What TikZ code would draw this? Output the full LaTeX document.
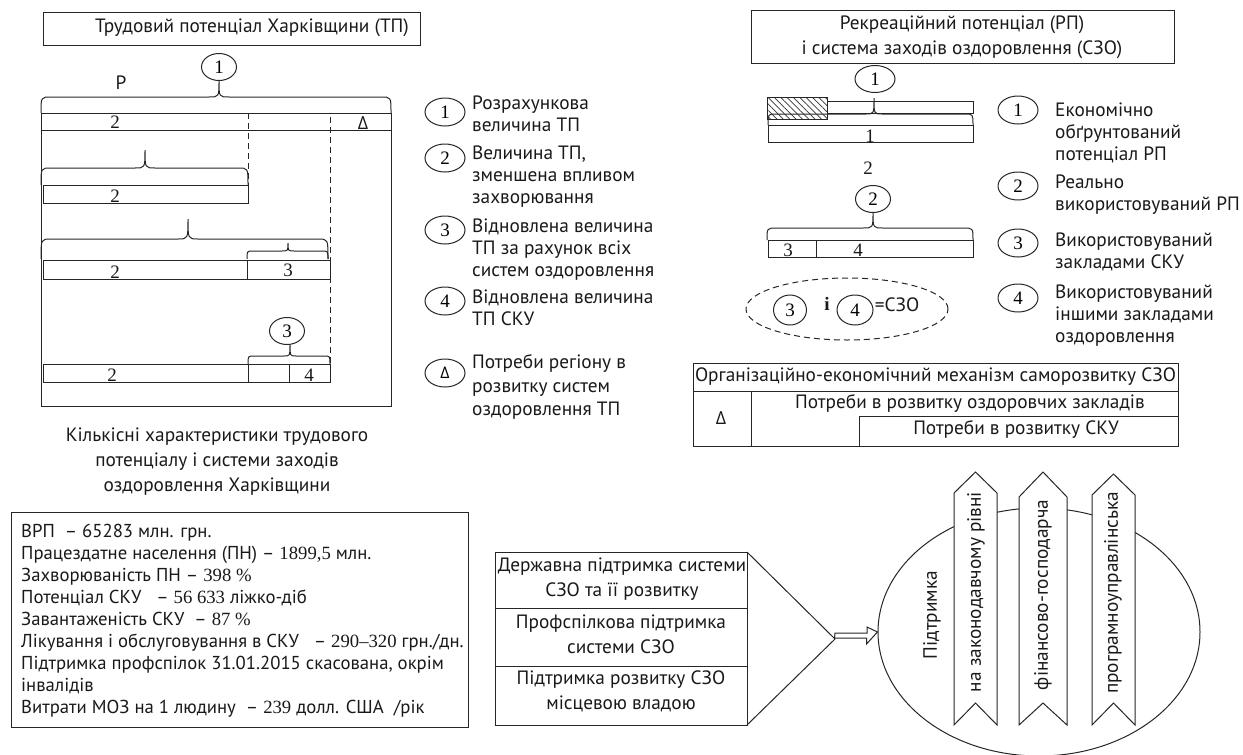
\documentclass[tikz,border=0pt]{standalone}
\usepackage{fontspec}
\setmainfont{PT Sans}
\newfontfamily\numfont{Liberation Serif}
\newfontfamily\grkfont{Open Sans}
\usetikzlibrary{patterns.meta,shapes.geometric}
\newcommand\mybrace[7]{%
 \draw[ln] (#1,#4) .. controls (#1,#3) .. ({#1+#7},#3) -- ({#5-#7},#3) .. controls (#5,#3) .. (#5,#6) .. controls (#5,#3) .. ({#5+#7},#3) -- ({#2-#7},#3) .. controls (#2,#3) .. (#2,#4);}
\begin{document}
\begin{tikzpicture}[x=1pt,y=-1pt,
 ln/.style={draw=black!85,line width=1pt},
 circ/.style={ellipse,draw=black!85,line width=1pt,minimum width=35pt,minimum height=27pt,inner sep=0pt,font=\numfont\fontsize{19}{19}\selectfont},
 lcirc/.style={circ,minimum width=40pt,minimum height=28pt},
 lab/.style={font=\fontsize{19.3}{22}\selectfont,align=left,anchor=west,inner sep=0pt,text=black!90},
 ctext/.style={font=\fontsize{19.3}{25}\selectfont,align=center,inner sep=0pt,text=black!90},
 num/.style={font=\numfont\fontsize{19}{19}\selectfont,inner sep=0pt,text=black!90},
 dlt/.style={font=\grkfont\fontsize{18}{18}\selectfont},
 dl/.style={ln,dashed,dash pattern=on 6pt off 4pt}
]
\useasboundingbox (0,0) rectangle (1243,755);

% ---------- top left ----------
\draw[ln] (43,12) rectangle (420,45);
\node[ctext] (tptitle) at (252,28) {Трудовий потенціал Харківщини (ТП)};
\node[circ] (c1) at (219,67) {1};
\node[ctext] (plab) at (121,83) {Р};
\mybrace{41}{391}{97}{113}{219}{81}{10}
\draw[ln] (41,113) rectangle (391,406);
\draw[ln] (41,130) -- (391,130);
\node[num] (r1a) at (115,122) {2};
\node[ctext,dlt] (r1d) at (363,123) {Δ};
\draw[dl] (248,113) -- (248,185);
\draw[dl] (330,117) -- (330,364);
% row 2
\mybrace{41}{248}{168}{185}{145}{150}{10}
\draw[ln] (43,185) rectangle (248,203);
\node[num] (r2a) at (115,196) {2};
% row 3
\mybrace{41}{328}{239}{259}{188}{219}{10}
\mybrace{247}{328}{251}{259}{288}{243}{6}
\draw[ln] (43,260) rectangle (330,279);
\draw[ln] (247,260) -- (247,279);
\node[num] (r3a) at (115,272) {2};
\node[num] (r3b) at (288,270) {3};
% row 4
\node[circ] (c3) at (287,331) {3};
\mybrace{248}{330}{356}{364}{290}{345}{6}
\draw[ln] (43,364) rectangle (330,382);
\draw[ln] (248,364) -- (248,382);
\draw[ln] (289,364) -- (289,382);
\node[num] (r4a) at (112,375) {2};
\node[num] (r4b) at (309,375) {4};

% legend left
\node[lcirc] (l1) at (445,112) {1};
\node[lab] (t1) at (472,113.5) {Розрахункова\\величина ТП};
\node[lcirc] (l2) at (445,158) {2};
\node[lab] (t2) at (472,177) {Величина ТП,\\зменшена впливом\\захворювання};
\node[lcirc] (l3) at (445,230) {3};
\node[lab] (t3) at (472,250) {Відновлена величина\\ТП за рахунок всіх\\систем оздоровлення};
\node[lcirc] (l4) at (445,301) {4};
\node[lab] (t4) at (472,308) {Відновлена величина\\ТП СКУ};
\node[lcirc,font=\grkfont\fontsize{16}{16}\selectfont] (ld) at (445,373) {Δ};
\node[lab,font=\fontsize{19.3}{23.5}\selectfont] (td) at (472,387) {Потреби регіону в\\розвитку систем\\оздоровлення ТП};

% caption
\node[ctext] (cap) at (217,462) {Кількісні характеристики трудового\\потенціалу і системи заходів\\оздоровлення Харківщини};

% bottom-left box
\draw[ln] (11,512) rectangle (468,727);
\node[lab,font=\fontsize{18.7}{22}\selectfont] (stats) at (21,621) {ВРП\ \ – 65283 млн. грн.\\
Працездатне населення (ПН) – {\numfont 1899,5} млн.\\
Захворюваність ПН – {\numfont 398 \%}\\
Потенціал СКУ\ \ \ – {\numfont 56 633} ліжко-діб\\
Завантаженість СКУ\ \ – {\numfont 87 \%}\\
Лікування і обслуговування в СКУ\ \ \ – {\numfont 290–320} грн./дн.\\
Підтримка профспілок 31.01.2015 скасована, окрім\\
інвалідів\\
Витрати МОЗ на 1 людину\ \ – {\numfont 239} долл. США\ \ /рік};

% ---------- top right ----------
\draw[ln] (751,10) rectangle (1174,63);
\node[ctext] (rptitle) at (962,37) {Рекреаційний потенціал (РП)\\і система заходів оздоровлення (СЗО)};
\node[lcirc,minimum height=27pt] (k1) at (875,79) {1};
\fill[white] (767,97) rectangle (827,119);
\fill[pattern={Lines[angle=-45,distance=4.5pt,line width=0.7pt]},pattern color=black!80] (767,97) rectangle (827,119);
\draw[ln] (767,97) rectangle (827,119);
\draw[ln] (827,101) rectangle (973,113);
\mybrace{768}{973}{114}{125}{874}{98}{8}
\draw[ln] (768,125) rectangle (973,142);
\node[num] (k1lab) at (870,136) {1};
\node[num] (k2lab) at (868,168) {2};
\node[circ] (k2) at (873,199) {2};
\mybrace{767}{973}{228}{240}{873}{212.5}{10}
\draw[ln] (768,240) rectangle (973,257);
\draw[ln] (816,240) -- (816,257);
\node[num] (k3lab) at (788,250) {3};
\node[num] (k4lab) at (858,250) {4};
% dashed ellipse
\node[ellipse,dl,minimum width=202pt,minimum height=62pt] (szo) at (847,309) {};
\node[circ,minimum width=33pt,minimum height=30pt] (e3) at (790,310) {3};
\node[num,font=\numfont\bfseries\fontsize{19}{19}\selectfont] (ei) at (827,304) {і};
\node[circ,minimum width=36pt,minimum height=30pt] (e4) at (855,310) {4};
\node[ctext] (eq) at (897,305) {=СЗО};

% legend right
\node[lcirc] (q1) at (1018,110) {1};
\node[lab] (u1) at (1055,133) {Економічно\\обґрунтований\\потенціал РП};
\node[lcirc] (q2) at (1018,186) {2};
\node[lab] (u2) at (1055,195) {Реально\\використовуваний РП};
\node[lcirc] (q3) at (1018,243) {3};
\node[lab] (u3) at (1055,252) {Використовуваний\\закладами СКУ};
\node[lcirc] (q4) at (1018,298) {4};
\node[lab] (u4) at (1055,316) {Використовуваний\\іншими закладами\\оздоровлення};

% org table
\draw[ln] (693,363) rectangle (1178,446);
\draw[ln] (693,391) -- (1178,391);
\draw[ln] (751,391) -- (751,446);
\draw[ln] (859,446) -- (859,416) -- (1178,416);
\node[ctext] (org) at (935.5,377) {Організаційно-економічний механізм саморозвитку СЗО};
\node[ctext,dlt] (od) at (721,418) {Δ};
\node[ctext] (o1) at (970,403) {Потреби в розвитку оздоровчих закладів};
\node[ctext] (o2) at (1016,429) {Потреби в розвитку СКУ};

% ---------- bottom middle ----------
\draw[ln] (495,552) rectangle (747,725);
\draw[ln] (495,608) -- (747,608);
\draw[ln] (495,666) -- (747,666);
\node[ctext] (s1) at (622,579.5) {Державна підтримка системи\\СЗО та її розвитку};
\node[ctext] (s2) at (621,634.5) {Профспілкова підтримка\\системи СЗО};
\node[ctext] (s3) at (621,691.5) {Підтримка розвитку СЗО\\місцевою владою};
\coordinate (apex) at (835,639);
\draw[ln] (747,552) -- (apex) -- (747,725);

% ellipse
\node[ellipse,ln,minimum width=322pt,minimum height=248pt] (ell) at (1039,632) {};
\draw[ln,fill=white] (apex) ++(0,-6) -- ++(32,0) -- ++(0,-6) -- (ell.west) -- ([xshift=-11pt,yshift=-12pt]ell.west) -- ++(0,-6) -- ++(-32,0) -- cycle;
\node[ctext,rotate=90] (pid) at (932,615) {Підтримка};

\draw[ln,fill=white] (954,725) -- (954,493) -- (975.5,472) -- (997,493) -- (997,725) -- (975.5,703) -- cycle;
\draw[ln,fill=white] (1019,725) -- (1019,497) -- (1043,472) -- (1067,497) -- (1067,725) -- (1043,703) -- cycle;
\draw[ln,fill=white] (1092,725) -- (1092,495) -- (1113.5,474) -- (1135,495) -- (1135,725) -- (1113.5,703) -- cycle;
\node[ctext,rotate=90] (a1) at (976,592) {на законодавчому рівні};
\node[ctext,rotate=90] (a2) at (1043,595) {фінансово-господарча};
\node[ctext,rotate=90] (a3) at (1113,593) {програмноуправлінська};
\end{tikzpicture}
\end{document}
